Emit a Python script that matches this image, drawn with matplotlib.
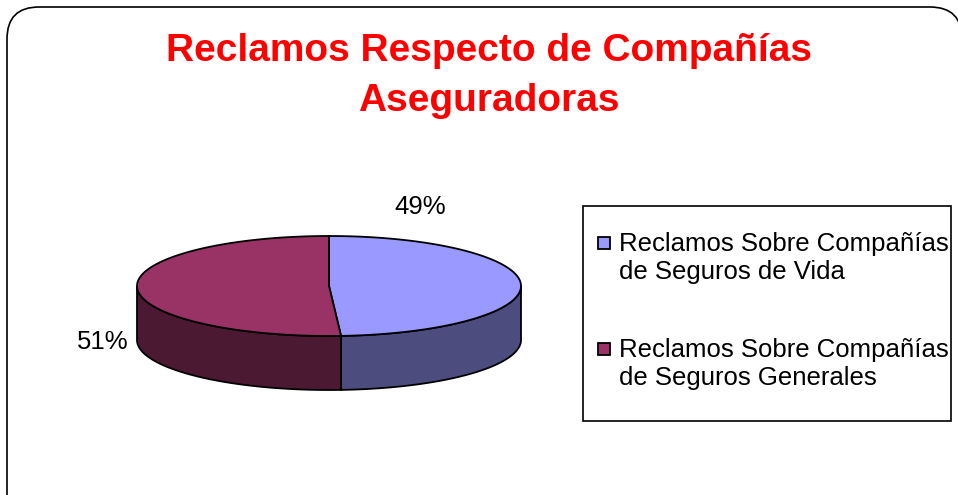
import numpy as np
import matplotlib
matplotlib.use("Agg")
import matplotlib.pyplot as plt
from matplotlib.patches import Polygon, Rectangle, FancyBboxPatch

plt.rcParams['font.family'] = ['Liberation Sans', 'DejaVu Sans']

# data
labels = ["Reclamos Sobre Compañías\nde Seguros de Vida",
          "Reclamos Sobre Compañías\nde Seguros Generales"]
shares = [49, 51]
pct_labels = ["49%", "51%"]
top_colors = ["#9999FF", "#993366"]
side_colors = ["#4C4C7F", "#4C1933"]

TITLE = "Reclamos Respecto de Compañías\nAseguradoras"

# pie geometry, in pixels (y grows downwards)
CX, CY = 329, 286
RA, RB = 192, 50
DEPTH = 54


def ell(t):
    r = np.radians(t)
    return CX + RA * np.cos(r), CY - RB * np.sin(r)


def arc(t1, t2, n=120):
    ts = np.linspace(t1, t2, n)
    x, y = ell(ts)
    return np.column_stack([x, y])


fig = plt.figure(figsize=(9.58, 4.95), dpi=100)
ax = fig.add_axes([0, 0, 1, 1])
ax.set_xlim(0, 958)
ax.set_ylim(495, 0)
ax.axis('off')

# rounded outer frame
frame = FancyBboxPatch((7, 7), 955, 520, boxstyle="round,pad=0,rounding_size=32",
                       fc='white', ec='black', lw=1.2, zorder=0)
ax.add_patch(frame)

# slice angles: start at 12 o'clock, clockwise
total = float(sum(shares))
starts, ends = [], []
a = 90.0
for s in shares:
    starts.append(a)
    a -= 360.0 * s / total
    ends.append(a)

# side walls (only the front half, 180..360 deg is visible)
for i in range(len(shares)):
    lo, hi = ends[i], starts[i]
    segs = []
    for off in (0, -360, 360):
        l, h = lo + off, hi + off
        l2, h2 = max(l, -180), min(h, 0)
        if h2 > l2:
            segs.append((l2, h2))
    for l2, h2 in segs:
        top = arc(l2, h2)
        bot = top[::-1].copy()
        bot[:, 1] += DEPTH
        ax.add_patch(Polygon(np.vstack([top, bot]), closed=True,
                             fc=side_colors[i], ec='black', lw=1.3, zorder=2))

# top faces
for i in range(len(shares)):
    pts = np.vstack([[CX, CY], arc(starts[i], ends[i])])
    ax.add_patch(Polygon(pts, closed=True, fc=top_colors[i], ec='black',
                         lw=1.3, zorder=3))

# percentage labels
ax.text(420, 207, pct_labels[0], fontsize=18.5, ha='center', va='center')
ax.text(103, 342, pct_labels[1], fontsize=18.5, ha='center', va='center')

# title
ax.text(489, 76, TITLE, fontsize=28, fontweight='bold', color='#FF0000',
        ha='center', va='center', linespacing=1.5)

# legend
ax.add_patch(Rectangle((583, 206), 368, 215, fc='white', ec='black', lw=1.2, zorder=4))
ys = [258, 364]
for i, lab in enumerate(labels):
    ax.add_patch(Rectangle((598, ys[i] - 21), 12, 12, fc=top_colors[i], ec='black',
                           lw=1.3, zorder=5))
    ax.text(619, ys[i], lab, fontsize=18.5, ha='left', va='center',
            linespacing=1.2, zorder=5)

fig.savefig("out.png", dpi=100)
